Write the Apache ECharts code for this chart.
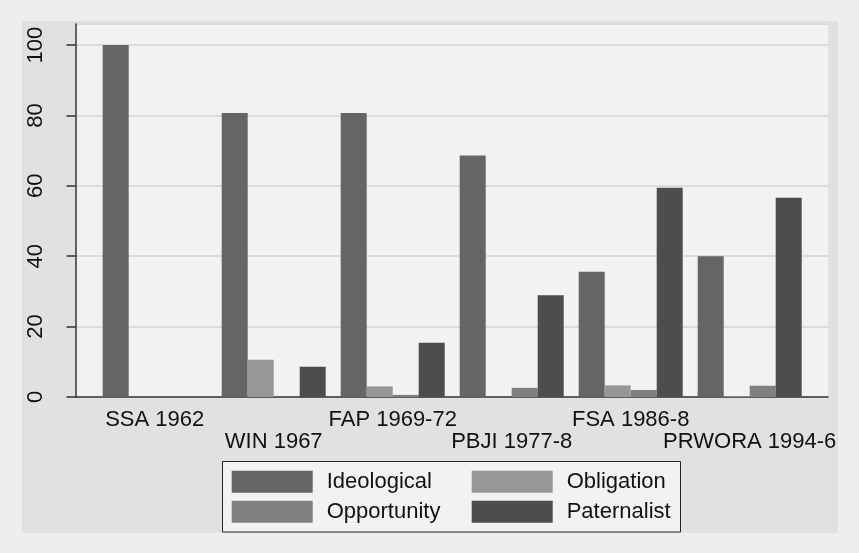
<!DOCTYPE html>
<html>
<head>
    <meta charset="utf-8">
    <title>Ideological / Obligation / Opportunity / Paternalist</title>
    <script src="https://cdn.jsdelivr.net/npm/echarts@6/dist/echarts.min.js"></script>
    <style>
        html, body { margin: 0; padding: 0; background: #eeeeee; }
    </style>
</head>
<body>
    <div id="main" style="width: 859px;height:553px;"></div>
    <script type="text/javascript">
        var categories = ['SSA 1962', 'WIN 1967', 'FAP 1969-72', 'PBJI 1977-8', 'FSA 1986-8', 'PRWORA 1994-6'];
        var ideological = [100, 80.7, 80.7, 68.6, 35.6, 40.0];
        var obligation = [0, 10.6, 3.0, 0, 3.3, 0.2];
        var opportunity = [0, 0, 0.6, 2.6, 2.0, 3.2];
        var paternalist = [0, 8.6, 15.4, 28.9, 59.5, 56.6];
        var yTicks = [0, 20, 40, 60, 80, 100];

        var FONT = '"Liberation Sans", Arial, sans-serif';
        var myChart = echarts.init(document.getElementById('main'));

        function bar(name, data, color) {
            return {
                name: name,
                type: 'bar',
                xAxisIndex: 1,
                yAxisIndex: 1,
                data: data,
                barWidth: 26,
                barGap: '0%',
                itemStyle: { color: color },
                emphasis: { disabled: true }
            };
        }

        // one legend column (two items stacked)
        function legendCol(names, left) {
            return {
                data: names,
                left: left,
                top: 470.7,
                orient: 'vertical',
                padding: 0,
                itemWidth: 81,
                itemHeight: 22,
                itemGap: 8,
                icon: 'rect',
                selectedMode: false,
                textStyle: {
                    fontFamily: FONT,
                    fontSize: 22,
                    color: '#111111',
                    padding: [0, 0, 0, 9]
                }
            };
        }

        var option = {
            backgroundColor: '#eeeeee',
            animation: false,
            graphic: [{
                type: 'rect',
                z: -10,
                shape: { x: 22, y: 21, width: 816, height: 512 },
                style: { fill: '#e1e1e1' }
            }, {
                type: 'rect',
                z: 1,
                shape: { x: 222.5, y: 461.5, width: 458, height: 70.5 },
                style: { fill: '#f2f2f2', stroke: '#222222', lineWidth: 1 }
            }],
            grid: [
                // plot region (background, y axis, gridlines)
                { left: 75.5, right: 31, top: 24, bottom: 156, show: true,
                  backgroundColor: '#f2f2f2', borderWidth: 0 },
                // bars
                { left: 95.2, right: 49.8, top: 24, bottom: 156 }
            ],
            legend: [
                legendCol(['Ideological', 'Opportunity'], 231.7),
                legendCol(['Obligation', 'Paternalist'], 471.7)
            ],
            xAxis: [{
                gridIndex: 0,
                type: 'category',
                data: categories,
                axisLine: { show: true, lineStyle: { color: '#333333', width: 1.5 } },
                axisTick: { show: false },
                axisLabel: { show: false },
                splitLine: { show: false }
            }, {
                gridIndex: 1,
                type: 'category',
                data: categories,
                axisLine: { show: false },
                axisTick: { show: false },
                splitLine: { show: false },
                axisLabel: {
                    interval: 0,
                    margin: 12,
                    fontFamily: FONT,
                    fontSize: 22,
                    lineHeight: 22,
                    color: '#111111',
                    formatter: function (val, idx) {
                        return idx % 2 === 1 ? '\n' + val : val;
                    }
                }
            }],
            yAxis: [{
                gridIndex: 0,
                type: 'value',
                min: 0,
                max: 106,
                interval: 20,
                axisLine: { show: true, lineStyle: { color: '#333333', width: 1.5 } },
                axisTick: { show: true, length: 9, lineStyle: { color: '#333333', width: 1.5 } },
                splitLine: { show: true, lineStyle: { color: '#dcdcdc', width: 2 } },
                axisLabel: {
                    rotate: 90,
                    margin: 29,
                    fontFamily: FONT,
                    fontSize: 22,
                    color: '#111111',
                    showMaxLabel: false,
                    formatter: function (v) {
                        return yTicks.indexOf(v) >= 0 ? String(v) : '';
                    }
                }
            }, {
                gridIndex: 1,
                type: 'value',
                min: 0,
                max: 106,
                show: false,
                splitLine: { show: false }
            }],
            series: [
                bar('Ideological', ideological, '#656565'),
                bar('Obligation', obligation, '#979797'),
                bar('Opportunity', opportunity, '#808080'),
                bar('Paternalist', paternalist, '#4d4d4d')
            ]
        };

        myChart.setOption(option);
    </script>
</body>
</html>
